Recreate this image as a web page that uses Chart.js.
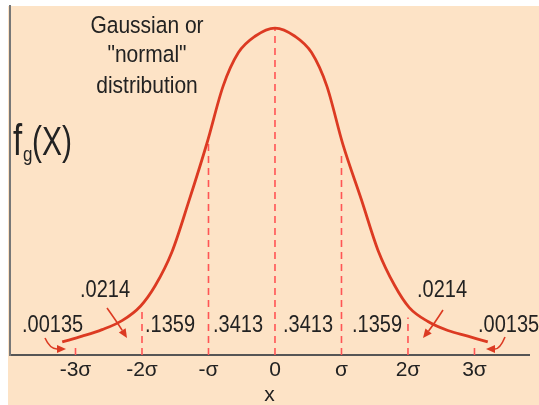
<!DOCTYPE html>
<html><head><meta charset="utf-8">
<script src="https://cdn.jsdelivr.net/npm/chart.js@4.4.1/dist/chart.umd.min.js"></script>
<style>html,body{margin:0;padding:0;background:#fff;}canvas{display:block;}</style>
</head><body>
<canvas id="c" width="539" height="405" style="width:539px;height:405px"></canvas>
<script>
// x in units of sigma, y in probability-density units (peak ~0.40)
const curveX = [-3.20,-2.90,-2.60,-2.30,-2.02,-1.80,-1.55,-1.30,-1.02,-0.78,-0.55,-0.30,0,0.30,0.55,0.78,1.02,1.30,1.55,1.80,2.02,2.30,2.60,2.90,3.20];
const curveY = [0.016,0.023,0.031,0.042,0.060,0.085,0.126,0.187,0.260,0.329,0.370,0.390,0.400,0.390,0.370,0.329,0.258,0.190,0.128,0.085,0.058,0.041,0.030,0.023,0.016];
const sigmaTicks = [-3,-2,-1,0,1,2,3];
const tickLabels = ['-3σ','-2σ','-σ','0','σ','2σ','3σ'];
const dashTops = [0.011,0.055,0.259,0.399,0.248,0.046,0.011];
const probLabels = ['.00135','.0214','.1359','.3413','.3413','.1359','.0214','.00135'];
const titleLines = ['Gaussian or','"normal"','distribution'];

const RED = '#dc3a22', DASH = '#ff5555', INK = '#222222', BG = '#fde3c6';

const datasets = [{
  data: curveX.map((x,i)=>({x, y: curveY[i]})),
  showLine: true, borderColor: RED, borderWidth: 2.8, pointRadius: 0,
  cubicInterpolationMode: 'monotone', fill: false
}];
sigmaTicks.forEach((s,i)=>{
  datasets.push({
    data: [{x:s, y:0}, {x:s, y:dashTops[i]}],
    showLine: true, borderColor: DASH, borderWidth: 1.6, borderDash: [7,5], pointRadius: 0
  });
});

function sText(ctx, t, x, y, size, align, sy){
  ctx.save();
  ctx.translate(x, y);
  ctx.scale(1, sy);
  ctx.font = size + 'px "Liberation Sans", Arial, sans-serif';
  ctx.textAlign = align; ctx.textBaseline = 'alphabetic';
  ctx.fillStyle = INK;
  ctx.fillText(t, 0, 0);
  ctx.restore();
}
function arrow(ctx, x0,y0,cx,cy,x1,y1){
  ctx.save();
  ctx.strokeStyle = RED; ctx.fillStyle = RED; ctx.lineWidth = 1.6;
  const ang = Math.atan2(y1-cy, x1-cx);
  const L = 9, W = 4;
  const bx = x1 - L*Math.cos(ang), by = y1 - L*Math.sin(ang);
  ctx.beginPath(); ctx.moveTo(x0,y0); ctx.quadraticCurveTo(cx,cy,bx,by); ctx.stroke();
  ctx.beginPath();
  ctx.moveTo(x1,y1);
  ctx.lineTo(bx + W*Math.sin(ang), by - W*Math.cos(ang));
  ctx.lineTo(bx - W*Math.sin(ang), by + W*Math.cos(ang));
  ctx.closePath(); ctx.fill();
  ctx.restore();
}

const deco = {
  id: 'deco',
  beforeDraw(chart){
    const ctx = chart.ctx;
    ctx.save();
    ctx.fillStyle = '#ffffff'; ctx.fillRect(0,0,chart.width,chart.height);
    ctx.fillStyle = BG; ctx.fillRect(8,6,chart.width-8,chart.height-6);
    ctx.restore();
  },
  afterDraw(chart){
    const ctx = chart.ctx;
    const tb = [33,62,93];
    titleLines.forEach((t,i)=>sText(ctx, t, 147, tb[i], 21, 'center', 1.15));
    sText(ctx, 'f', 13, 155, 33, 'left', 1.35);
    sText(ctx, 'g', 23, 161, 17, 'left', 1.2);
    sText(ctx, '(X)', 32, 155, 30, 'left', 1.35);
    const lx = [22,80,145,213,283,352,417,478];
    const ly = [332,297,332,332,332,332,297,332];
    probLabels.forEach((t,i)=>sText(ctx, t, lx[i], ly[i], 20, 'left', 1.17));
    arrow(ctx, 45,338, 50,349, 66,349);
    arrow(ctx, 107,308, 117,322, 127,338);
    arrow(ctx, 443,310, 434,324, 423,338);
    arrow(ctx, 505,337, 500,349, 486,349);
  }
};

new Chart(document.getElementById('c'), {
  type: 'scatter',
  data: { datasets },
  options: {
    responsive: false, animation: false, devicePixelRatio: 1,
    layout: { padding: { left: 10, right: 10, top: 6, bottom: 0 } },
    plugins: { legend: { display: false }, tooltip: { enabled: false } },
    scales: {
      x: {
        type: 'linear', min: -3.985, max: 3.82,
        afterBuildTicks(s){ s.ticks = sigmaTicks.map(v=>({value:v})); },
        afterFit(s){ s.height = 50; },
        ticks: {
          autoSkip: false, maxRotation: 0, padding: 3, color: INK,
          font: { size: 21, family: '"Liberation Sans", Arial, sans-serif' },
          callback(v){ const i = sigmaTicks.indexOf(v); return i >= 0 ? tickLabels[i] : ''; }
        },
        grid: { display: false, drawTicks: false },
        border: { display: true, color: '#555555', width: 2 },
        title: { display: true, text: 'x', color: INK, padding: { top: 0, bottom: -3 },
          font: { size: 21, family: '"Liberation Sans", Arial, sans-serif' } }
      },
      y: {
        min: 0, max: 0.427,
        afterFit(s){ s.width = 0; },
        ticks: { display: false },
        grid: { display: false, drawTicks: false },
        border: { display: true, color: '#777777', width: 2 }
      }
    }
  },
  plugins: [deco]
});
</script>
</body></html>
